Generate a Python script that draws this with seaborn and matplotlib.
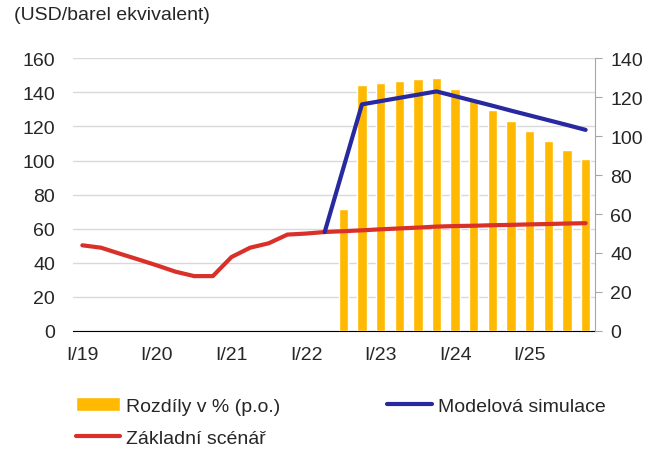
import numpy as np
import pandas as pd
import matplotlib
matplotlib.use("Agg")
import matplotlib.pyplot as plt
import seaborn as sns

sns.set_style("white")
plt.rcParams['font.family'] = ['Liberation Sans', 'DejaVu Sans']

# quarters I/19 .. IV/25
years = ['19', '20', '21', '22', '23', '24', '25']
roman = ['I', 'II', 'III', 'IV']
quarters = [f"{r}/{y}" for y in years for r in roman]
tick_labels = [f"I/{y}" for y in years]

# Základní scénář (left axis, USD/barel)
zakladni = [50.2, 48.8, 45.3, 41.9, 38.4, 34.7, 32.1, 32.1, 43.3, 48.8,
            51.4, 56.5, 57.1, 58.0, 58.5, 59.0, 59.6, 60.1, 60.6, 61.2,
            61.5, 61.7, 62.0, 62.2, 62.5, 62.7, 63.0, 63.2]
# Modelová simulace (left axis)
modelova = [np.nan] * 13 + [58.0, 95.5, 133.0, 134.9, 136.8, 138.7, 140.6,
                            137.8, 135.0, 132.2, 129.3, 126.5, 123.7, 120.9, 118.0]
# Rozdíly v % (right axis)
rozdily = [np.nan] * 14 + [62.8, 126.3, 127.5, 128.5, 129.2, 129.9, 124.2,
                           118.6, 113.3, 107.8, 102.7, 97.7, 92.9, 88.3]

df = pd.DataFrame({'kvartal': quarters, 'idx': np.arange(len(quarters)),
                   'zakladni': zakladni, 'modelova': modelova, 'rozdily': rozdily})

c_bar = '#FFB900'
c_blue = '#2828A0'
c_red = '#D9302A'
fs = 14

fig = plt.figure(figsize=(6.7, 4.64), dpi=100)
ax = fig.add_axes([0.109, 0.285, 0.779, 0.587])
ax_bar = ax.twinx()
ax_line = ax.twinx()

sns.barplot(data=df, x='kvartal', y='rozdily', order=quarters, color=c_bar,
            saturation=1, width=0.5, ax=ax_bar, label='Rozdíly v % (p.o.)')
sns.lineplot(data=df, x='idx', y='zakladni', color=c_red, linewidth=3,
             ax=ax_line, label='Základní scénář')
sns.lineplot(data=df, x='idx', y='modelova', color=c_blue, linewidth=3,
             ax=ax_line, label='Modelová simulace')

for a in (ax, ax_bar, ax_line):
    a.set_xlim(-0.5, len(quarters) - 0.5)
    a.set_xlabel('')
    a.set_ylabel('')
    for s in a.spines.values():
        s.set_visible(False)

# left axis: grid + labels
ax.set_ylim(0, 160)
ax.set_yticks(range(0, 161, 20))
ax.tick_params(axis='y', length=0, labelsize=fs, pad=13)
ax.yaxis.grid(True, color='#D9D9D9', linewidth=1)
ax.set_axisbelow(True)
ax.spines['bottom'].set_visible(True)
ax.spines['bottom'].set_color('black')
ax.set_xticks(range(0, len(quarters), 4))
ax.set_xticklabels(tick_labels)
ax.set_xticks(np.arange(-0.5, len(quarters), 4), minor=True)
ax.tick_params(axis='x', which='major', length=0, labelsize=fs, pad=11)
ax.tick_params(axis='x', which='minor', length=5, width=1, color='black')

# right axis for bars
ax_bar.set_ylim(0, 140)
ax_bar.set_yticks(range(0, 141, 20))
ax_bar.spines['right'].set_visible(True)
ax_bar.spines['right'].set_color('#A6A6A6')
ax_bar.tick_params(axis='y', length=5, color='#A6A6A6', labelsize=fs, pad=6)

ax_line.set_ylim(0, 160)
ax_line.set_yticks([])

ax_bar.get_legend() and ax_bar.get_legend().remove()
ax_line.get_legend() and ax_line.get_legend().remove()

h1, l1 = ax_bar.get_legend_handles_labels()
h2, l2 = ax_line.get_legend_handles_labels()
handles = h1 + h2
labels = l1 + l2
fig.legend(handles, labels, ncol=2, loc='upper left', bbox_to_anchor=(0.113, 0.142),
           frameon=False, fontsize=fs, handlelength=2.3, handletextpad=0.3,
           columnspacing=5.5, labelspacing=0.75, borderpad=0, borderaxespad=0)

fig.text(14 / 670, 1 - 16 / 464, '(USD/barel ekvivalent)', ha='left', va='center',
         fontsize=fs)

fig.savefig('out.png', dpi=100)
